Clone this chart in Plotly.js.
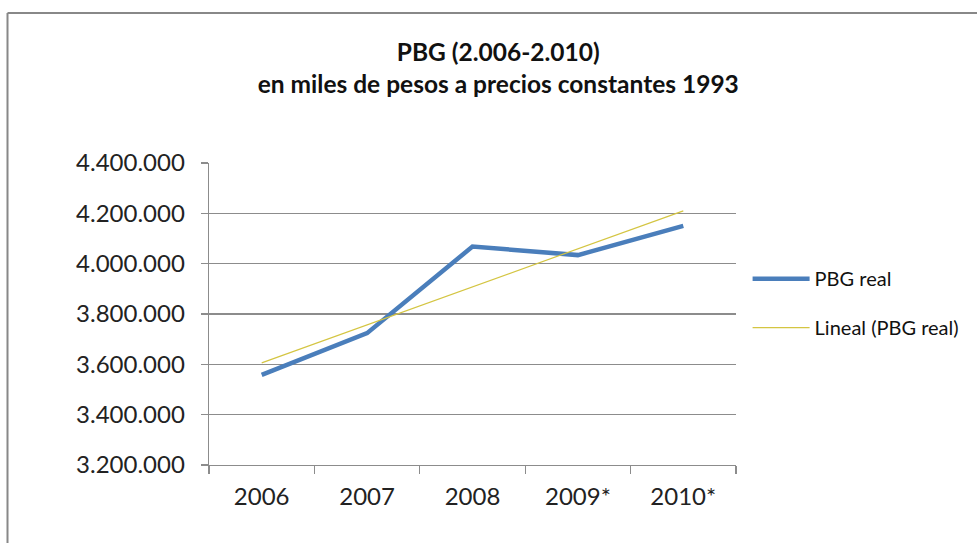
<!DOCTYPE html>
<html>
<head>
<meta charset="utf-8">
<script src="https://cdn.plot.ly/plotly-3.0.1.min.js"></script>
<style>
  html, body { margin: 0; padding: 0; background: #fff; }
  #chart { width: 977px; height: 543px; }
</style>
</head>
<body>
<div id="chart"></div>
<script>
const categories = ["2006", "2007", "2008", "2009*", "2010*"];
const pbgReal = [3558000, 3724000, 4068000, 4034000, 4150000];
const trendCategories = ["2006", "2010*"];
const trendValues = [3606000, 4210000];
const yTickValues = [3200000, 3400000, 3600000, 3800000, 4000000, 4200000, 4400000];
const yTickLabels = ["3.200.000", "3.400.000", "3.600.000", "3.800.000", "4.000.000", "4.200.000", "4.400.000"];

const fontFam = "Lato, 'Open Sans', 'Liberation Sans', sans-serif";

const traces = [
  {
    x: categories, y: pbgReal, type: "scatter", mode: "lines",
    name: "PBG real", legendgroup: "a",
    line: { color: "#4a7ebb", width: 4.5 }
  },
  {
    x: trendCategories, y: trendValues, type: "scatter", mode: "lines",
    name: "Lineal (PBG real)", legendgroup: "b",
    line: { color: "#d4c542", width: 1.2 }
  }
];

const layout = {
  width: 977, height: 543,
  margin: { l: 209, r: 237, t: 163, b: 78 },
  paper_bgcolor: "#ffffff", plot_bgcolor: "#ffffff",
  font: { family: fontFam, color: "#222" },
  title: {
    text: "<b>PBG (2.006-2.010)</b><br><b>en miles de pesos a precios constantes 1993</b>",
    font: { family: fontFam, size: 24.5, color: "#111" },
    x: 0.51, xref: "container", xanchor: "center",
    y: 0.887, yref: "container", yanchor: "middle"
  },
  xaxis: {
    type: "category",
    categoryorder: "array", categoryarray: categories,
    range: [-0.5, 4.5],
    showgrid: false,
    showline: true, linecolor: "#8c8c8c", linewidth: 1.3,
    ticks: "outside", tickson: "boundaries", ticklen: 8, tickcolor: "#8c8c8c", tickwidth: 1.3,
    ticklabelstandoff: 10,
    tickfont: { family: fontFam, size: 24, color: "#222" },
    zeroline: false, fixedrange: true
  },
  yaxis: {
    range: [3200000, 4400000],
    tickvals: yTickValues, ticktext: yTickLabels,
    showgrid: true, gridcolor: "#8c8c8c", gridwidth: 1.3,
    showline: true, linecolor: "#8c8c8c", linewidth: 1.3,
    ticks: "outside", ticklen: 7, tickcolor: "#8c8c8c", tickwidth: 1.3,
    ticklabelstandoff: 11,
    tickfont: { family: fontFam, size: 24, color: "#222" },
    zeroline: false, fixedrange: true
  },
  legend: {
    x: 1.022, xanchor: "left", y: 0.536, yanchor: "middle",
    font: { family: fontFam, size: 20, color: "#111" },
    itemwidth: 57, tracegroupgap: 20,
    bgcolor: "rgba(0,0,0,0)"
  },
  showlegend: true
};

Plotly.newPlot("chart", traces, layout, { displayModeBar: false, staticPlot: true }).then(function(gd){
  // outer chart-area border (top and left edges visible in reference)
  const ps = gd._fullLayout._size;
  const ytop = 13, xleft = 7.5;
  const y0p = (ps.t + ps.h - ytop) / ps.h;
  const x0p = (xleft - ps.l) / ps.w;
  Plotly.relayout(gd, {
    shapes: [
      { type: "line", xref: "paper", yref: "paper", x0: x0p, x1: (990 - ps.l) / ps.w, y0: y0p, y1: y0p,
        line: { color: "#888", width: 2 } },
      { type: "line", xref: "paper", yref: "paper", x0: x0p, x1: x0p, y0: y0p, y1: (ps.t + ps.h - 560) / ps.h,
        line: { color: "#888", width: 2 } }
    ]
  });
});
</script>
</body>
</html>
